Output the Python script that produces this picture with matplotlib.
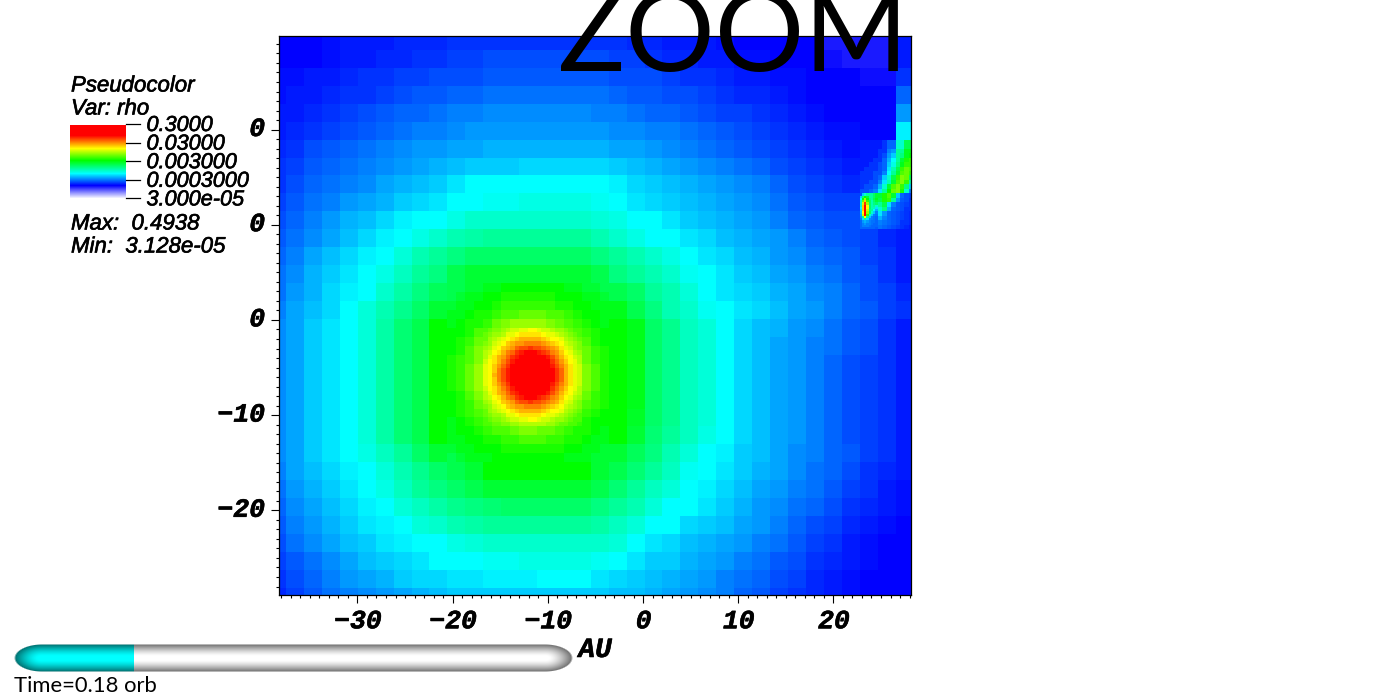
import numpy as np
import matplotlib
matplotlib.use('Agg')
import matplotlib.pyplot as plt
import matplotlib.patheffects as pe
from matplotlib.colors import LinearSegmentedColormap, Normalize
from matplotlib.transforms import ScaledTranslation

# colour level: 0 blue, 10 cyan, 20 green, 30 yellow, 40 red
coarse_levels = [
    [0,0,0,.5,1,1,1,1.5,1.5,1.5,2,2,2,2,2,2,2,2, 2,2,1.5,1.5,1,1,1,.5,0,0,0,0,0,-1,-1,-1,-1,1],
    [0,0,0,.5,1,1,1.5,1.5,2,2,2.5,2.5,3,3,3,3,3,3, 3,2.5,2.5,2,1.5,1.5,1,1,.5,.5,0,0,0,-.5,-1,-1,-1,1],
    [.5,.5,1,1,1.5,2,2,2.5,2.5,3,3,3,3.5,3.5,3.5,3.5,3.5,3.5, 3.5,3,3,3,2.5,2,2,1.5,1,1,.5,.5,0,0,0,-.5,-.5,2],
    [.5,1,1,1.5,2,2,2.5,3,3.5,3.5,4,4,4.5,4.5,4.5,4.5,4.5,4.5, 4.5,4,3.5,3.5,3,3,2.5,2,1.5,1.5,1,.5,0,0,0,0,0,4],
    [1,1,1.5,2,2.5,3,3.5,4,4,4.5,5,5,5.5,5.5,5.5,5.5,5.5,5.5, 5,5,4.5,4,4,3.5,3,2.5,2.5,2,1.5,1,.5,0,0,0,0,6],
    [1,1.5,2,2.5,3,3.5,4,4.5,5,5,5.5,6,6,6,6,6,6,6, 6,5.5,5.5,5,5,4.5,4,3.5,3,2.5,2,1.5,1,.5,.5,0,0,9.5],
    [1.5,2,3,3.5,4,4.5,5,5.5,6,6,6.5,6.5,7,7,7,7,7,7, 7,6.5,6.5,6,5.5,5,4.5,4,3.5,3,2.5,2,1.5,1,.5,.5,2,13],
    [2,2.5,3.5,4,4.5,5,5.5,6,6.5,7,7.5,8,8,8,8.5,8.5,8.5,8.5, 8.5,8,7.5,7,6.5,6,5.5,5,4.5,4,3,2.5,2,1.5,1,.5,1,17],
    [2,3,4,4.5,5,5.5,6.5,7,7.5,8,9,10,10,10,10,10,10,10, 10,9.5,8.5,8,7.5,7,6.5,6,5.5,5,4,3,2.5,2,1.5,1,1,1],
    [2.5,3.5,4.5,5,6,6.5,7,8,8.5,9,10,10,10.5,10.5,11,11,11,11, 10.5,10,9,8.5,8,7.5,7,6.5,6,5.5,4.5,3.5,3,2.5,2.5,1,1,1],
    [3,4,5,6,7,7.5,8.5,9.5,10,10,11,12,12,12,12,12,12,12, 11.5,11,10,10,9,8,7.5,7,6.5,6,5,4,3.5,3,3,1.5,1.5,1],
    [3.5,4.5,5.5,6.5,7.5,8.5,9.5,10,11,12,13,13.5,14,14,14,14,14,14, 13,12,11,10,10,9,8.5,7.5,7,6.5,6,5,4,3.5,3,2.5,1.5,1],
    [4,5,6.5,7.5,8.5,9.5,10,11.5,13,14,15,16,16,16,16,16,16,16, 15,14,13,12,11,10,9,8.5,7.5,7,6,5.5,4.5,4,3.5,2.5,2,1],
    [4.5,5.5,7,8,9,10,11,12.5,14,15,17,18,18,18,18,18,18,18, 17,15,14,13,12,10.5,10,9,8,7.5,6.5,6,5,4.5,3.5,3,2,1],
    [4.5,6,7,8.5,9.5,10,12,13.5,15,16.5,18,19,20,20,21,21,21,20, 19,17,16,14,13,11.5,10,9,8.5,8,7,6.5,5.5,5,4,3,2.5,1.5],
    [5,6.5,7.5,8.5,10,11.5,13,14.5,16,18,19,20,22,24,24,24,22,21, 20,19,17,15,13,12,10.5,10,9,8.5,7.5,6.5,6,5,4,3.5,2.5,2],
    [5.5,6.5,8,9,10,11.5,13.5,15.5,17,20,20,21,24,26,26,26,24,22, 21,20,19,16,14.5,12.5,11.5,10,8.5,7.5,7,6,5.5,4.5,3.5,3,2,1],
    [5.5,6.5,8,9,10,11.5,13.5,15.5,17,20,20,22,24,26,26,26,24,22, 21,20,19,16,14.5,12.5,11.5,10,8.5,7.5,6.5,6,5,4.5,3.5,3,2,1],
    [5.5,6.5,8,9,10,11.5,13.5,15.5,17,20,21,23,26,30,30,30,26,22, 21,20,19,16,14.5,12.5,11.5,10,8.5,7.5,6.5,6,5,4,3,2.5,2,1],
    [5.5,6.5,8,9,10,11.5,13.5,15.5,17,20,21,23,26,40,40,36,26,22, 21,20,19,16,14.5,12.5,11.5,10,8.5,7.5,6.5,6,5,4,3,2.5,2,1],
    [5.5,6.5,8,9,10,11.5,13.5,15.5,17,20,20,23,26,30,30,30,26,22, 21,20,19,16,14.5,12.5,11.5,10,8.5,7.5,6.5,6,5,4,3,2.5,2,1],
    [5.5,6.5,8,9,10,11.5,13.5,15.5,17,20,20,22,24,26,26,26,24,22, 21,20,18.5,16,14.5,12.5,11.5,10,8.5,7.5,6.5,6,5,4,3,2.5,2,1],
    [5.5,6.5,8,9,10,11.5,13.5,15.5,17,20,20,21,22,23,24,24,22,21, 21,20,18,15.5,14,12.5,11,10,8.5,7.5,6.5,6,5,4,3,2.5,2,1],
    [5.5,6.5,8,9,10,11,12.5,14,16,18,19,20,21,21,21,21,21,20, 20,18,16.5,15,13,11.5,10,9.5,8,7.5,6.5,5.5,5,4,3.5,2.5,2,1],
    [5,6.5,7.5,8.5,9.5,10,11.5,13,14.5,16,17,18,20,20,20,20,20,20, 18,17,15.5,14,12.5,10.5,10,9,8,7,6.5,5.5,4.5,4,3,2,1.5,1],
    [4.5,6,7,8,9,10,11,12.5,14,15,16,17,18,18,18,18,18,18, 17,15.5,14,12.5,11.5,10,9.5,8.5,7.5,6.5,6,5,4.5,3.5,2.5,2,1,.5],
    [4,5.5,6.5,7.5,8.5,9.5,10,11.5,12.5,13.5,14.5,15,15.5,16,16,16,16,16, 15,14,13,11.5,10,10,9,8,7,6,5.5,4.5,4,3,2,1.5,1,.5],
    [3.5,5,6,7,8,9,9.5,10,11.5,12,13,13.5,14,14,14,14,14,14, 13.5,12.5,11.5,10,10,8.5,8,7.5,6.5,6,5,4,3,2.5,1.5,1,.5,0],
    [3,4.5,5.5,6.5,7.5,8,9,9.5,10,10,11,11.5,12,12,12,12,12,12, 12,11.5,10,9,8.5,7.5,7,6.5,6,5,4.5,3.5,2.5,2,1,.5,0,0],
    [2.5,3.5,4.5,5.5,6.5,7.5,8,8.5,9,10,10,10,10.5,10.5,11,11,11,11, 10.5,10,9,8,8,7,6.5,6,5,4.5,3.5,3,2,1.5,1,.5,0,0],
    [2,3,4,5,6,6.5,7,8,8.5,8.5,9,9,9.5,9.5,9.5,10,10,10, 9,8.5,8,7.5,7,6.5,6,5,4.5,4,3,2.5,1.5,1,.5,0,0,0],
    [1.5,2.5,3.5,4.5,5,5.5,6,6.5,7,7.5,8,8,8,8,8,8,8,8, 8,7.5,7.5,7,6.5,6,5.5,5,4,3.5,2.5,2,1.5,1,.5,0,0,0],
]

# refined block round the star
mid_levels = [
    [17,17,18,18,19,19,20,20,20,20,20,20,20,19,19,18,18,17],
    [17,18,19,19,20,20,21,21,21,21,21,21,20,20,20,19,19,18],
    [18,19,19,20,20,21,22,22,22,22,22,22,21,21,20,20,19,19],
    [19,19,20,21,21,22,23,23,24,24,24,23,23,22,21,20,20,19],
    [19,20,21,21,22,24,25,26,26,26,26,25,24,23,22,21,20,19],
    [20,20,21,23,24,25,27,29,29,30,29,28,26,25,23,22,21,20],
    [20,21,22,24,25,28,30,32,34,34,33,31,29,27,25,23,21,20],
    [20,21,23,25,27,30,33,36,39,40,38,35,32,29,26,24,22,21],
    [21,22,23,25,29,32,36,40,40,40,40,39,34,31,27,24,22,21],
    [21,22,24,26,29,33,38,40,40,40,40,40,36,32,28,25,23,21],
    [21,22,24,26,29,33,39,40,40,40,40,40,36,32,28,25,23,21],
    [21,22,24,26,29,33,37,40,40,40,40,40,35,31,28,25,23,21],
    [20,21,23,25,28,31,34,38,40,40,40,36,33,30,26,24,22,21],
    [20,21,22,24,26,29,31,34,36,36,35,33,30,27,25,23,22,21],
    [20,21,22,23,25,26,28,30,31,31,31,29,27,25,24,22,21,20],
    [19,20,21,22,23,25,25,27,28,28,27,26,25,24,23,21,20,20],
    [19,20,20,21,22,23,23,24,25,25,24,24,23,22,21,21,20,19],
    [19,19,20,20,21,21,22,22,23,23,23,22,22,21,21,20,19,19],
    [18,19,19,20,20,20,21,21,21,21,21,21,21,20,20,19,19,18],
    [17,18,19,19,19,20,20,20,20,20,20,20,20,19,19,19,18,18],
]

inner_levels = [
    [23,24,25,25,26,27,28,28,29,29,30,30,29,28,28,27,26,26,25,24,23,23],
    [24,25,26,26,27,29,29,30,31,31,31,31,31,30,29,29,28,27,26,25,24,23],
    [24,26,27,28,29,30,31,32,33,33,33,33,33,32,31,30,30,29,27,26,25,24],
    [25,26,28,29,30,32,33,34,34,35,35,35,35,34,33,32,31,30,28,27,26,25],
    [26,27,29,30,32,33,34,36,37,37,38,37,37,36,35,34,33,31,29,28,26,25],
    [27,28,30,31,33,35,36,38,39,40,40,40,39,38,37,35,34,32,30,29,27,26],
    [27,29,31,33,34,36,38,39,40,40,40,40,40,40,39,37,35,33,31,30,28,27],
    [28,30,31,33,35,37,39,40,40,40,40,40,40,40,40,38,36,34,32,30,29,27],
    [29,30,32,34,36,38,40,40,40,40,40,40,40,40,40,39,37,35,33,31,29,28],
    [29,30,32,35,37,39,40,40,40,40,40,40,40,40,40,40,38,36,33,31,29,28],
    [29,30,33,35,37,39,40,40,40,40,40,40,40,40,40,40,38,36,33,31,29,28],
    [29,30,32,35,37,39,40,40,40,40,40,40,40,40,40,40,38,36,33,31,29,28],
    [29,30,32,34,36,38,40,40,40,40,40,40,40,40,40,39,37,35,33,31,29,28],
    [28,30,31,33,35,37,39,40,40,40,40,40,40,40,40,38,36,34,32,30,29,27],
    [27,29,31,33,34,36,38,39,40,40,40,40,40,40,39,37,35,33,31,30,28,27],
    [27,28,30,31,33,35,36,38,39,40,40,40,39,38,37,35,34,32,30,29,27,26],
    [26,27,29,30,32,33,34,36,37,37,38,37,37,36,35,34,33,31,29,28,26,25],
    [25,26,28,29,30,32,33,34,34,35,35,35,35,34,33,32,31,30,28,27,26,25],
    [24,26,27,28,29,30,31,32,33,33,33,33,33,32,31,30,30,29,27,26,25,24],
    [24,25,26,26,27,29,29,30,31,31,31,31,31,30,29,29,28,27,26,25,24,23],
    [23,24,25,25,26,27,28,28,29,29,30,30,29,28,28,27,26,26,25,24,23,23],
    [23,23,24,24,25,25,26,26,27,27,27,27,27,27,26,26,25,24,24,23,23,22],
]

# refined block along the planet's stream
jet_levels = [
    [1,1,1,1,1,2,4,4,12,12,17,17],
    [1,1,1,1,1,2,4,4,12,12,17,17],
    [1,1,1,1,2,2,5,6,14,14,19,19],
    [1,1,1,1,2,3,6,8,14,15,19,20],
    [1,1,1,2,2,4,7,10,14,18,21,22],
    [1,1,2,2,3,4,8,11,15,19,22,22],
    [1,2,2,2,3,4,9,13,17,22,24,23],
    [2,2,2,3,3,5,10,14,18,23,24,22],
    [2,2,2,3,4,8,12,17,22,25,24,17],
    [2,2,3,3,5,9,13,18,23,25,22,14],
    [2,3,3,4,7,12,18,23,25,22,15,8],
    [3,3,4,5,9,14,20,24,25,21,12,5],
    [15,20,18,16,18,21,23,18,8,4,3,2.5],
    [16,20,18,16,17,21,22,14,6,3.5,3,2],
    [14,22,20,16,14,17,9,5,3.5,3,2.5,2],
    [14,22,19,15,12,15,7,4,3.5,3,2,2],
    [12,30,22,14,9,6,4,3.5,3,2.5,2,1.5],
    [12,30,22,12,7,5,4,3.5,3,2.5,2,1.5],
    [6,10,9,7,5,4.5,4,3.5,3,2,2,1.5],
    [5,6,6,5,4.5,4,3.5,3,2.5,2,1.5,1],
]

head_levels = [
    [3,8,12,14,14,14,16,18],
    [8,16,20,18,14,14,16,18],
    [10,20,26,20,15,14,17,19],
    [12,24,32,22,16,13,16,18],
    [12,28,38,26,16,13,15,16],
    [12,32,40,30,16,13,14,12],
    [10,32,40,30,16,13,13,9],
    [9,32,40,28,15,14,10,7],
    [8,30,40,26,16,12,8,5],
    [7,28,40,22,12,8,5,4.5],
    [6,14,30,14,8,5,4.5,4],
    [5,9,14,9,5.5,5,4.5,4],
    [4,6,7,6,5,4.5,4.5,4],
    [4,5,6,5,5,4.5,4,4],
    [4,5,5,5,4.5,4,4,4],
    [4,4,4,4,4,4,4,3.5],
]

x_ticks = [-30, -20, -10, 0, 10, 20]
x_tick_labels = ['\u221230', '\u221220', '\u221210', '0', '10', '20']
y_ticks = [-20, -10, 0, 10, 20]
y_tick_labels = ['\u221220', '\u221210', '0', '0', '0']
legend_labels = ['0.3000', '0.03000', '0.003000', '0.0003000', '3.000e-05']
time_fraction = 0.215

W, H = 1400, 700
cmap = LinearSegmentedColormap.from_list('hot_visit', [
    (0.0, (1, 1, 1)), (0.2, (0, 0, 1)), (0.4, (0, 1, 1)),
    (0.6, (0, 1, 0)), (0.8, (1, 1, 0)), (1.0, (1, 0, 0))], N=1024)
norm = Normalize(-10, 40)

fig = plt.figure(figsize=(14, 7), dpi=100)
ax = fig.add_axes([279/W, 1-595/H, (911-279)/W, (595-36)/H])
ax.set_xlim(-38.24, 28.15)
ax.set_ylim(-28.89, 29.83)

CELL = 1.883
X0, Y0 = -37.5, 28.36


def draw_block(levels, x0, y0, cell):
    z = np.array(levels, dtype=float)
    xe = x0 + cell*np.arange(z.shape[1]+1)
    ye = y0 - cell*np.arange(z.shape[0]+1)
    ax.pcolormesh(xe, ye, z, cmap=cmap, norm=norm, antialiased=False, linewidth=0)


draw_block(coarse_levels, X0-CELL, Y0+CELL, CELL)
mx, my = X0+9*CELL, Y0-13*CELL
draw_block(mid_levels, mx, my, CELL/2)
draw_block(inner_levels, mx+4*CELL/2, my-5*CELL/2, CELL/4)
draw_block(jet_levels, X0+32*CELL, Y0-5*CELL, CELL/4)
draw_block(head_levels, X0+32*CELL, Y0-8*CELL, CELL/8)

heavy = [pe.withStroke(linewidth=0.4, foreground='black')]
tick_font = dict(family='Liberation Mono', weight='bold', style='italic', size=19)
ax.set_xticks(x_ticks)
ax.set_xticklabels(x_tick_labels, **tick_font)
ax.set_yticks(y_ticks)
ax.set_yticklabels(y_tick_labels, **tick_font)
ax.set_xticks(np.arange(-38, 29), minor=True)
ax.set_yticks(np.arange(-28, 30), minor=True)
ax.tick_params(which='major', length=6, width=0.8, pad=5)
ax.tick_params(which='minor', length=2.2, width=0.8)
for s in ax.spines.values():
    s.set_linewidth(0.9)
for lab in ax.get_yticklabels():
    lab.set_transform(lab.get_transform()+ScaledTranslation(1/72, 2.2/72, fig.dpi_scale_trans))
    lab.set_path_effects(heavy)
for lab in ax.get_xticklabels():
    lab.set_transform(lab.get_transform()+ScaledTranslation(0.4/72, 0.7/72, fig.dpi_scale_trans))
    lab.set_path_effects(heavy)

# overlay in pixel coordinates for legend, bar and titles
ov = fig.add_axes([0, 0, 1, 1], zorder=5)
ov.set_xlim(0, W)
ov.set_ylim(H, 0)
ov.axis('off')
ov.patch.set_alpha(0)

# legend ramp
ramp_px = [198, 185, 173, 160, 148, 135, 125]
ramp_levels = [-10, 0, 10, 20, 30, 40, 40]
yy = np.arange(125, 199)
ramp = np.interp(yy, ramp_px[::-1], ramp_levels[::-1])[:, None]
ov.pcolormesh([70, 126], np.arange(125, 200), ramp, cmap=cmap, norm=norm,
              antialiased=False, linewidth=0)
leg_stroke = [pe.withStroke(linewidth=0.45, foreground='black')]
leg_font = dict(family='Liberation Sans', style='italic', size=16, va='center',
                color='black', path_effects=leg_stroke)
for i, lab in enumerate(legend_labels):
    ypx = 124 + i*18.6
    ov.plot([126, 140], [ypx, ypx], color='black', lw=0.9)
    ov.text(146.5, ypx+1.5, lab, family='Liberation Sans', style='italic', size=15.6,
            va='center', color='black', path_effects=leg_stroke)
ov.text(71, 86, 'Pseudocolor', **leg_font)
ov.text(71, 109, 'Var: rho', **leg_font)
ov.text(71, 224, 'Max:  0.4938', **leg_font)
ov.text(71, 247, 'Min:  3.128e-05', **leg_font)

ov.text(595, 650, 'AU', family='Liberation Mono', weight='bold', style='italic',
        size=20, ha='center', va='center', path_effects=heavy)
ov.text(558, 71.5, 'ZOOM', family='Lato', size=80.5, ha='left', va='baseline', color='black',
        clip_on=False)
ov.text(14, 692, 'Time=0.18 orb', family='Lato', size=15.8, ha='left',
        va='baseline', color='black')

# time bar: shaded capsule
bx0, bx1, by0, by1 = 14, 573, 644, 672
px, py = np.meshgrid(np.arange(bx0, bx1)+0.5, np.arange(by0, by1)+0.5)
v = np.abs(py-(by0+by1)/2)/((by1-by0)/2)
rx = 28.0
u = np.maximum(np.maximum(bx0+rx-px, px-(bx1-rx)), 0)/rx
d = np.sqrt(u**2+v**2)
shade = 1-0.6*np.clip((d-0.15)/0.85, 0, 1)**1.4
img = np.ones(px.shape+(4,))
filled = px < bx0+time_fraction*(bx1-bx0)
img[..., 0] = np.where(filled, 0, shade)
img[..., 1] = shade
img[..., 2] = shade
img[..., 3] = np.clip((1-d)*14, 0, 1)
ov.imshow(img, extent=[bx0, bx1, by1, by0], aspect='auto', interpolation='nearest', zorder=3)
ov.set_xlim(0, W)
ov.set_ylim(H, 0)

fig.savefig('out.png', dpi=100)
